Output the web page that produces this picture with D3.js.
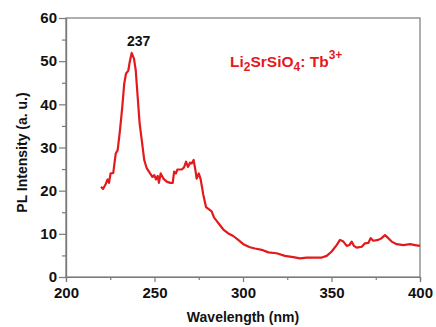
<!DOCTYPE html>
<html>
<head>
<meta charset="utf-8">
<script src="https://cdn.jsdelivr.net/npm/d3@7"></script>
<style>
  body { margin: 0; background: #fff; }
  text { font-family: "Liberation Sans", Arial, sans-serif; font-weight: bold; }
</style>
</head>
<body>
<div id="chart"></div>
<script>
// PL excitation spectrum
const wavelength = [219.8, 220.9, 222.4, 223.5, 224.3, 225.2, 226.7, 228.1, 229.2, 230.5,
  231.8, 232.9, 233.9, 235.2, 236.0, 237.1, 238.4, 239.4, 240.5, 241.6,
  242.8, 244.2, 245.6, 247.5, 248.8, 249.9, 250.8, 251.8, 252.5, 253.5,
  255.0, 256.9, 258.8, 260.3, 261.1, 262.1, 262.9, 265.4, 266.7, 267.8,
  268.9, 270.1, 271.0, 272.1, 273.1, 273.8, 275.0, 276.1, 277.6, 279.1,
  281.0, 282.3, 283.6, 285.1, 287.0, 288.9, 291.7, 294.5, 297.3, 300.2,
  303.9, 306.8, 310.6, 314.3, 319.0, 323.7, 328.4, 332.2, 336.0, 340.7,
  344.5, 347.3, 350.1, 352.9, 354.8, 356.7, 358.6, 360.1, 361.4, 362.7,
  364.2, 367.1, 368.9, 370.8, 372.1, 373.6, 376.4, 378.3, 380.2, 382.1,
  384.0, 386.8, 390.6, 394.4, 397.2, 400.0];
const intensity = [20.9, 20.4, 21.5, 22.6, 21.8, 24.0, 24.1, 28.6, 29.4, 34.0,
  39.4, 44.8, 47.1, 47.8, 49.8, 51.9, 50.6, 47.9, 41.7, 35.6,
  31.7, 27.1, 25.2, 24.0, 23.2, 23.6, 22.6, 23.4, 21.8, 24.0,
  22.8, 22.1, 21.8, 21.8, 24.4, 24.0, 24.9, 24.9, 25.4, 26.7,
  25.5, 26.5, 26.3, 27.1, 24.8, 22.8, 24.0, 22.6, 19.0, 16.2,
  15.6, 15.2, 13.8, 13.0, 12.0, 11.0, 10.1, 9.5, 8.6, 7.6,
  6.9, 6.6, 6.3, 5.7, 5.5, 4.9, 4.6, 4.3, 4.5, 4.5,
  4.5, 4.9, 5.9, 7.4, 8.6, 8.2, 7.2, 7.4, 8.2, 7.2,
  6.8, 7.0, 7.8, 7.9, 9.0, 8.4, 8.6, 9.0, 9.7, 9.0,
  8.2, 7.6, 7.4, 7.6, 7.4, 7.2];
const xTicks = [200, 250, 300, 350, 400];
const yTicks = [0, 10, 20, 30, 40, 50, 60];
const peakLabel = "237";

const width = 436, height = 327;
const margin = { top: 18, right: 16, bottom: 50, left: 66 };
const red = "#e31a1c";
const axisColor = "#7a7a7a";

const svg = d3.select("#chart").append("svg")
  .attr("width", width)
  .attr("height", height);

const x = d3.scaleLinear().domain([200, 400]).range([margin.left, width - margin.right]);
const y = d3.scaleLinear().domain([0, 60]).range([height - margin.bottom, margin.top]);

// frame
svg.append("rect")
  .attr("x", x(200)).attr("y", y(60))
  .attr("width", x(400) - x(200)).attr("height", y(0) - y(60))
  .attr("fill", "none").attr("stroke", axisColor).attr("stroke-width", 1.2);

// minor ticks
const xAxisMinor = d3.axisBottom(x).tickValues([225, 275, 325, 375]).tickSize(3).tickFormat("");
const yAxisMinor = d3.axisLeft(y).tickValues([5, 15, 25, 35, 45, 55]).tickSize(4).tickFormat("");

const gxm = svg.append("g").attr("transform", `translate(0,${y(0)})`).call(xAxisMinor);
const gym = svg.append("g").attr("transform", `translate(${x(200)},0)`).call(yAxisMinor);

// major ticks
const gx = svg.append("g").attr("transform", `translate(0,${y(0)})`)
  .call(d3.axisBottom(x).tickValues(xTicks).tickSize(5).tickPadding(5));
const gy = svg.append("g").attr("transform", `translate(${x(200)},0)`)
  .call(d3.axisLeft(y).tickValues(yTicks).tickSize(7).tickPadding(2));

[gxm, gym, gx, gy].forEach(g => {
  g.select(".domain").attr("stroke", axisColor).attr("stroke-width", 1.2);
  g.selectAll(".tick line").attr("stroke", axisColor).attr("stroke-width", 1.2);
});
[gx, gy].forEach(g => g.selectAll(".tick text").attr("font-size", 15).attr("fill", "#111")
  .style("font-family", "'Liberation Sans', Arial, sans-serif").style("font-weight", "bold"));

// spectrum
const pts = wavelength.map((w, i) => [w, intensity[i]]);
const line = d3.line().x(d => x(d[0])).y(d => y(d[1]));
svg.append("path")
  .datum(pts)
  .attr("d", line)
  .attr("fill", "none")
  .attr("stroke", red)
  .attr("stroke-width", 2.2)
  .attr("stroke-linejoin", "round");

// peak label
svg.append("text")
  .attr("x", x(241)).attr("y", 46)
  .attr("text-anchor", "middle")
  .attr("font-size", 14).attr("fill", "#111")
  .text(peakLabel);

// sample label
const lbl = svg.append("text")
  .attr("x", 230).attr("y", 67)
  .attr("font-size", 15.5).attr("fill", red);
lbl.append("tspan").text("Li");
lbl.append("tspan").attr("dy", 4).attr("font-size", 12).text("2");
lbl.append("tspan").attr("dy", -4).text("SrSiO");
lbl.append("tspan").attr("dy", 4).attr("font-size", 12).text("4");
lbl.append("tspan").attr("dy", -4).text(": Tb");
lbl.append("tspan").attr("dy", -8).attr("font-size", 12).text("3+");

// axis titles
svg.append("text")
  .attr("x", (x(200) + x(400)) / 2).attr("y", 322)
  .attr("text-anchor", "middle")
  .attr("font-size", 14).attr("fill", "#111")
  .text("Wavelength (nm)");

svg.append("text")
  .attr("transform", `translate(27,${(y(0) + y(60)) / 2 + 5}) rotate(-90)`)
  .attr("text-anchor", "middle")
  .attr("font-size", 14).attr("fill", "#111")
  .text("PL Intensity (a. u.)");
</script>
</body>
</html>
